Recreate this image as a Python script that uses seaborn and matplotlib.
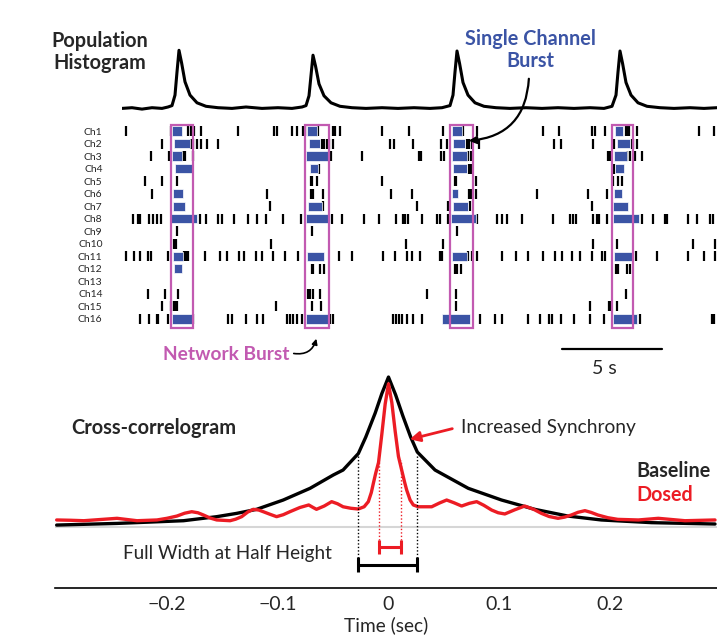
import seaborn as sns
import matplotlib.pyplot as plt
from matplotlib.patches import Rectangle, FancyArrowPatch

# ---- population histogram (time in s, normalised rate) ----
hist_t = [0.0, 0.5, 1.0, 1.5, 2.0, 2.3, 2.5, 2.65, 2.75, 2.85, 2.98, 3.15, 3.4, 3.75, 4.2, 4.8,
          5.5, 6.2, 7.0, 7.8, 8.5, 9.0, 9.2, 9.35, 9.45, 9.55, 9.68, 9.85, 10.1, 10.45, 10.9,
          11.5, 12.2, 13.0, 13.8, 14.6, 15.4, 16.0, 16.4, 16.55, 16.65, 16.75, 16.88, 17.05,
          17.3, 17.65, 18.1, 18.7, 19.4, 20.2, 21.0, 21.8, 22.6, 23.4, 24.1, 24.5, 24.7, 24.8,
          24.9, 25.03, 25.2, 25.45, 25.8, 26.25, 26.9, 27.6, 28.4, 29.1, 29.75]
hist_v = [0.08, 0.09, 0.07, 0.09, 0.08, 0.10, 0.12, 0.27, 0.60, 0.91, 0.73, 0.46, 0.27, 0.16, 0.11, 0.09,
          0.08, 0.10, 0.08, 0.09, 0.08, 0.10, 0.12, 0.26, 0.55, 0.84, 0.68, 0.43, 0.26, 0.16, 0.11,
          0.09, 0.08, 0.09, 0.08, 0.09, 0.08, 0.09, 0.12, 0.27, 0.60, 0.90, 0.72, 0.45,
          0.27, 0.16, 0.11, 0.09, 0.08, 0.09, 0.08, 0.09, 0.08, 0.09, 0.08, 0.11, 0.27, 0.60,
          0.90, 0.72, 0.45, 0.27, 0.16, 0.11, 0.09, 0.08, 0.09, 0.08, 0.09]

# ---- raster: spike times (s) per channel ----
spikes_ch1 = [0.20, 2.44, 3.32, 3.44, 3.62, 3.95, 5.82, 7.60, 7.74, 8.49, 8.74, 9.07, 9.17, 9.79, 10.54,
              10.65, 10.90, 12.99, 14.37, 16.04, 17.04, 17.74, 21.04, 21.85, 23.49, 23.65, 24.15, 25.19,
              25.29, 25.35, 25.74, 28.87, 29.60]
spikes_ch2 = [1.99, 3.44, 3.57, 3.74, 3.94, 4.24, 4.82, 9.99, 10.10, 10.24, 10.37, 10.57, 13.40, 13.60,
              14.57, 15.94, 16.27, 17.24, 17.35, 17.52, 17.85, 21.62, 21.94, 23.57, 24.62, 25.49, 25.57, 25.74]
spikes_ch3 = [1.45, 2.37, 3.03, 3.13, 3.57, 10.44, 11.99, 14.85, 14.95, 15.94, 16.12, 17.32, 17.44,
              24.32, 24.40, 25.25, 25.40, 25.65, 25.99]
spikes_ch4 = [9.85, 17.35, 17.44, 24.62]
spikes_ch5 = [1.15, 1.99, 2.74, 9.44, 9.50, 9.77, 12.99, 16.65, 16.70, 17.69, 24.57, 24.82, 25.02]
spikes_ch6 = [1.52, 7.27, 9.44, 9.54, 10.07, 13.44, 14.49, 17.35, 17.45, 17.70, 20.77, 23.32, 24.24]
spikes_ch7 = [7.42, 10.07, 14.74, 16.32, 17.40, 23.52]
spikes_ch8 = [0.57, 0.82, 0.89, 1.37, 1.53, 1.73, 1.93, 3.90, 4.18, 4.82, 5.02, 5.62, 6.32, 6.74, 7.18,
              8.04, 8.95, 10.51, 10.98, 12.10, 12.85, 13.69, 14.04, 14.15, 14.32, 14.99, 15.74, 15.90,
              16.32, 17.74, 18.77, 18.99, 19.24, 19.99, 21.57, 22.40, 22.53, 22.68, 23.57, 23.74, 23.85,
              24.24, 25.99, 26.57, 27.15, 27.27, 28.32, 28.74, 29.40, 29.57]
spikes_ch9 = [2.77, 9.49, 16.74]
spikes_ch10 = [2.62, 2.69, 7.44, 14.20, 16.07, 23.57, 24.77, 28.54, 29.65]
spikes_ch11 = [0.20, 0.62, 0.90, 1.32, 1.44, 2.32, 3.08, 3.20, 3.30, 4.15, 4.90, 5.24, 5.85, 6.10, 6.70,
               6.99, 7.57, 8.15, 8.79, 10.85, 11.49, 13.04, 13.65, 14.24, 14.49, 14.90, 15.90, 16.02,
               17.32, 17.52, 17.74, 18.99, 19.69, 20.32, 21.04, 21.65, 22.02, 22.49, 22.90, 23.49,
               23.99, 24.15, 25.70, 26.74, 28.29, 29.12, 29.65]
spikes_ch12 = [9.49, 9.57, 9.90, 10.10, 16.65, 16.77, 16.94, 24.70, 24.82, 25.24, 25.40]
spikes_ch13 = []
spikes_ch14 = [1.29, 2.15, 2.82, 9.32, 9.40, 9.54, 9.90, 15.24, 16.69, 25.19]
spikes_ch15 = [2.00, 2.44, 2.62, 2.70, 2.76, 7.70, 9.49, 9.94, 16.69, 23.40, 24.37, 24.45, 24.77]
spikes_ch16 = [0.90, 1.35, 1.74, 1.79, 2.32, 3.57, 5.32, 5.52, 6.19, 6.77, 7.07, 8.24, 8.40, 8.54, 8.74,
               9.02, 10.40, 10.54, 13.55, 13.70, 13.85, 14.00, 14.25, 14.55, 15.00, 17.90, 18.65, 18.99,
               20.32, 20.90, 21.35, 21.52, 21.94, 22.62, 23.40, 24.12, 25.90, 29.49, 29.60]

# single channel bursts (start, end) in s
bursts_ch1 = [(2.49, 3.02), (9.27, 9.74), (16.49, 16.99), (24.65, 25.04)]
bursts_ch2 = [(2.62, 3.40), (9.35, 9.90), (16.57, 17.15), (24.74, 25.40)]
bursts_ch3 = [(2.52, 3.02), (9.20, 10.32), (16.49, 17.24), (24.62, 25.24)]
bursts_ch4 = [(2.65, 3.49), (9.40, 9.79), (16.57, 17.27), (24.65, 25.12)]
bursts_ch6 = [(2.57, 3.07), (16.49, 16.82), (24.62, 24.99)]
bursts_ch7 = [(2.57, 3.15), (9.32, 9.99), (16.54, 17.29), (24.57, 25.32)]
bursts_ch8 = [(2.45, 3.74), (9.20, 10.40), (16.45, 17.69), (24.57, 25.85)]
bursts_ch11 = [(2.54, 3.07), (9.24, 10.10), (16.49, 17.24), (24.62, 25.57)]
bursts_ch12 = [(2.62, 2.99)]
bursts_ch16 = [(2.49, 3.49), (9.20, 10.32), (16.02, 17.40), (24.57, 25.74)]

network_bursts = [(2.45, 3.57), (9.15, 10.37), (16.40, 17.57), (24.49, 25.54)]

# ---- cross-correlogram ----
lag_base = [-0.2995, -0.245, -0.185, -0.155, -0.137, -0.119, -0.095, -0.0708, -0.0498, -0.041,
            -0.0272, -0.0205, -0.012, -0.006, 0.0, 0.0065, 0.013, 0.020, 0.026, 0.042, 0.072,
            0.102, 0.132, 0.162, 0.192, 0.2375, 0.2947]
cc_base = [0.013, 0.024, 0.042, 0.069, 0.091, 0.118, 0.18, 0.258, 0.347, 0.38,
           0.49, 0.60, 0.76, 0.89, 1.0, 0.88, 0.74, 0.60, 0.50, 0.38, 0.258,
           0.18, 0.118, 0.073, 0.047, 0.029, 0.02]
lag_dosed = [-0.2995, -0.287, -0.275, -0.260, -0.245, -0.236, -0.227, -0.209, -0.200, -0.191, -0.184,
             -0.1776, -0.172, -0.167, -0.161, -0.155, -0.143, -0.138, -0.1325, -0.127, -0.122, -0.117,
             -0.113, -0.107, -0.101, -0.095, -0.089, -0.080, -0.072, -0.068, -0.065, -0.058, -0.0513,
             -0.046, -0.041, -0.034, -0.0273, -0.022, -0.0182, -0.0155, -0.0137, -0.0115, -0.009,
             -0.006, -0.003, 0.0, 0.003, 0.006, 0.009, 0.0119, 0.0145, 0.0164, 0.0195, 0.0224, 0.0269,
             0.039, 0.046, 0.0525, 0.059, 0.066, 0.073, 0.0796, 0.086, 0.0931, 0.099, 0.105, 0.114,
             0.123, 0.131, 0.138, 0.145, 0.153, 0.159, 0.165, 0.171, 0.1773, 0.183, 0.189, 0.198,
             0.207, 0.2255, 0.2435, 0.2676, 0.2947]
cc_dosed = [0.047, 0.045, 0.042, 0.050, 0.058, 0.050, 0.042, 0.047, 0.058, 0.073, 0.092,
            0.102, 0.095, 0.080, 0.060, 0.047, 0.042, 0.052, 0.069, 0.100, 0.118, 0.113,
            0.102, 0.085, 0.069, 0.082, 0.102, 0.130, 0.147, 0.130, 0.118, 0.140, 0.169,
            0.155, 0.135, 0.125, 0.120, 0.135, 0.169, 0.230, 0.290, 0.36, 0.43,
            0.62, 0.82, 0.955, 0.83, 0.64, 0.47, 0.38, 0.30, 0.247, 0.18, 0.147, 0.135,
            0.135, 0.160, 0.180, 0.162, 0.140, 0.158, 0.169, 0.145, 0.113, 0.095, 0.087, 0.115,
            0.140, 0.118, 0.091, 0.070, 0.058, 0.066, 0.080, 0.098, 0.109, 0.097, 0.080, 0.062,
            0.051, 0.047, 0.058, 0.042, 0.047]
fwhh_base = (-0.0272, 0.026)
fwhh_dosed = (-0.009, 0.0113)

BLUE = '#3B54A5'
PINK = '#C25AB1'
RED = '#EC1C24'

sns.set_theme(style='white')
plt.rcParams['font.family'] = ['Lato', 'DejaVu Sans']

W, H = 717, 635
fig = plt.figure(figsize=(W / 100, H / 100), dpi=100)


def fx(x):
    return x / W


def fy(y):
    return 1 - y / H


# population histogram
ax_h = fig.add_axes([fx(122), fy(114), fx(595), 70 / H])
sns.lineplot(x=hist_t, y=hist_v, ax=ax_h, color='black', lw=2.2)
ax_h.set_xlim(0, 29.75)
ax_h.set_ylim(0, 1)
ax_h.axis('off')

# raster
ax_r = fig.add_axes([fx(122), fy(330), fx(595), 208 / H])
all_spikes = [spikes_ch1, spikes_ch2, spikes_ch3, spikes_ch4, spikes_ch5, spikes_ch6, spikes_ch7,
              spikes_ch8, spikes_ch9, spikes_ch10, spikes_ch11, spikes_ch12, spikes_ch13,
              spikes_ch14, spikes_ch15, spikes_ch16]
channels = [f'Ch{i}' for i in range(1, 17)]
for i, sp in enumerate(all_spikes):
    if sp:
        ax_r.vlines(sp, i + 1 - 0.4, i + 1 + 0.4, color='black', lw=1.6)

bursts = {1: bursts_ch1, 2: bursts_ch2, 3: bursts_ch3, 4: bursts_ch4, 6: bursts_ch6, 7: bursts_ch7,
          8: bursts_ch8, 11: bursts_ch11, 12: bursts_ch12, 16: bursts_ch16}
for ch, bl in bursts.items():
    ax_r.barh([ch] * len(bl), [e - s for s, e in bl], left=[s for s, e in bl], height=0.74,
              color=BLUE, edgecolor='white', lw=0.5, zorder=3)

for s, e in network_bursts:
    ax_r.add_patch(Rectangle((s, 0.52), e - s, 16.2, fill=False, edgecolor=PINK, lw=1.6, zorder=4))

ax_r.set_xlim(0, 29.75)
ax_r.set_ylim(16.88, 0.28)
ax_r.set_yticks(range(1, 17))
ax_r.set_yticklabels(channels, fontsize=7.5)
ax_r.tick_params(axis='y', length=0, pad=14)
ax_r.set_xticks([])
for sp in ax_r.spines.values():
    sp.set_visible(False)

# 5 s scale bar
ax_r.plot([22.0, 27.0], [18.39, 18.39], color='black', lw=1.6, clip_on=False)

# cross-correlogram
ax_c = fig.add_axes([fx(55), fy(588), fx(662), 218 / H])
ax_c.patch.set_alpha(0)
ax_c.axhline(0, color='#d6d6d6', lw=1.5, zorder=0)
sns.lineplot(x=lag_base, y=cc_base, ax=ax_c, color='black', lw=2.4, sort=False)
sns.lineplot(x=lag_dosed, y=cc_dosed, ax=ax_c, color=RED, lw=2.4, sort=False)
ax_c.set_xlim(-0.301, 0.2965)
ax_c.set_ylim(-0.4067, 1.047)

# full width at half height markers
ax_c.vlines(fwhh_base, -0.253, 0.49, color='black', lw=1, linestyles=(0, (1, 1.5)))
ax_c.vlines(fwhh_dosed, -0.133, 0.45, color=RED, lw=1, linestyles=(0, (1, 1.5)))
ax_c.hlines(-0.253, *fwhh_base, color='black', lw=2.2)
ax_c.vlines(fwhh_base, -0.303, -0.203, color='black', lw=2.2)
ax_c.hlines(-0.133, *fwhh_dosed, color=RED, lw=2.2)
ax_c.vlines(fwhh_dosed, -0.18, -0.086, color=RED, lw=2.2)

ax_c.set_xticks([-0.2, -0.1, 0, 0.1, 0.2])
ax_c.set_xticklabels(['\u22120.2', '\u22120.1', '0', '0.1', '0.2'])
ax_c.set_yticks([])
ax_c.tick_params(axis='x', direction='in', length=4, width=1, labelsize=14, pad=6, color='black')
for k in ['left', 'right', 'top']:
    ax_c.spines[k].set_visible(False)
ax_c.spines['bottom'].set_color('black')
ax_c.spines['bottom'].set_linewidth(1.2)
ax_c.set_xlabel('Time (sec)', fontsize=13.8, labelpad=2)

# labels and arrows
fig.text(fx(100), fy(52), 'Population\nHistogram', ha='center', va='center', fontsize=14.3,
         fontweight='bold', linespacing=1.12)
fig.text(fx(530), fy(50), 'Single Channel\nBurst', ha='center', va='center', fontsize=14.3,
         fontweight='bold', color=BLUE, linespacing=1.12)
fig.text(fx(226), fy(354), 'Network Burst', ha='center', va='center', fontsize=13.8,
         fontweight='bold', color=PINK)
fig.text(fx(604), fy(369), '5 s', ha='center', va='center', fontsize=14)
fig.text(fx(154), fy(428), 'Cross-correlogram', ha='center', va='center', fontsize=14.4, fontweight='bold')
fig.text(fx(461), fy(428), 'Increased Synchrony', ha='left', va='center', fontsize=13.8)
fig.text(fx(636), fy(471), 'Baseline', ha='left', va='center', fontsize=14.2, fontweight='bold')
fig.text(fx(636), fy(495), 'Dosed', ha='left', va='center', fontsize=14.2, fontweight='bold', color=RED)
fig.text(fx(227), fy(553), 'Full Width at Half Height', ha='center', va='center', fontsize=13.6)

fig.add_artist(FancyArrowPatch(
    (529, H - 76), (466, H - 141), transform=None,
    connectionstyle='arc3,rad=-0.45', arrowstyle='-|>', mutation_scale=11, lw=1.6, color='black'))
fig.add_artist(FancyArrowPatch(
    (291, H - 353), (317, H - 336), transform=None,
    connectionstyle='arc3,rad=0.5', arrowstyle='-|>', mutation_scale=8, lw=1.2, color='black'))
fig.add_artist(FancyArrowPatch(
    (455, H - 428), (407, H - 440), transform=None,
    arrowstyle='-|>', mutation_scale=15, lw=2, color=RED))

fig.savefig('out.png', dpi=100)
